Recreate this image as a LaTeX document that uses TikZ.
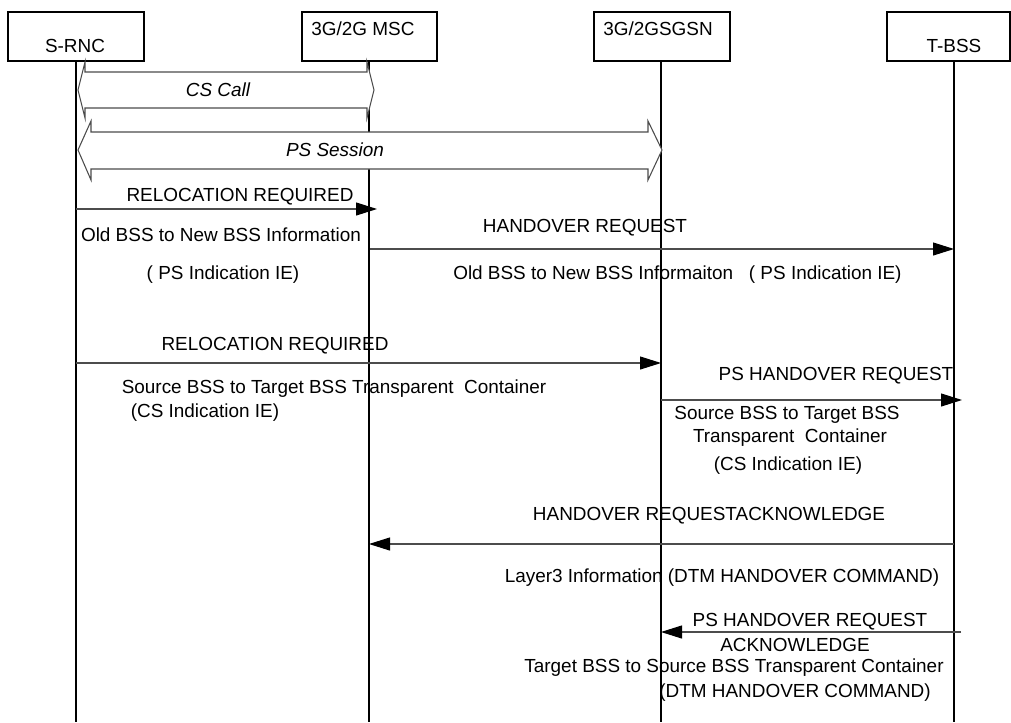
\documentclass[tikz,border=0pt]{standalone}
\usepackage{fontspec}
\setmainfont{Liberation Sans}
\usetikzlibrary{arrows.meta}
\begin{document}
\begin{tikzpicture}[x=0.75pt,y=-0.75pt,
  box/.style={draw=black,line width=1.2pt,minimum height=36.75pt,inner sep=0pt},
  lifeline/.style={draw=black,line width=1.6pt},
  msg/.style={draw=black!70,line width=0.8pt,-{Triangle[length=15.75pt,width=9.75pt,color=black]}},
  txt/.style={font=\fontsize{14.2}{16}\selectfont,inner sep=0pt,anchor=base},
  itxt/.style={txt,font=\fontsize{14.2}{16}\selectfont\itshape},
  band/.style={draw=black!70,line width=0.8pt},
  ]
\useasboundingbox (0,0) rectangle (1011,722);
\fill[white] (0,0) rectangle (1011,722);

% header boxes
\node[box,minimum width=102pt] (srnc) at (76,36.5) {};
\node[box,minimum width=101.25pt] (msc) at (369.5,36.5) {};
\node[box,minimum width=102pt] (sgsn) at (662,36.5) {};
\node[box,minimum width=92.25pt] (tbss) at (948.5,36.5) {};
\node[txt] (srnct) at (75,52) {S-RNC};
\node[txt] (msct) at (363,35) {3G/2G MSC};
\node[txt] (sgsnt) at (658,35) {3G/2GSGSN};
\node[txt] (tbsst) at (954,52) {T-BSS};

% lifelines
\coordinate (t1) at (76,61);  \coordinate (b1) at (76,722);
\coordinate (t2) at (369,61); \coordinate (b2) at (369,722);
\coordinate (t3) at (661,61); \coordinate (b3) at (661,722);
\coordinate (t4) at (954,61); \coordinate (b4) at (954,722);
\draw[lifeline] (t1) -- (b1);
\draw[lifeline] (t2) -- (b2);
\draw[lifeline] (t3) -- (b3);
\draw[lifeline] (t4) -- (b4);

% CS Call band
\draw[band,fill=white] (85,72) -- (367,72) -- (367,62) -- (374,90) -- (367,118) -- (367,108)
  -- (85,108) -- (85,118) -- (78,90) -- (85,62) -- cycle;
\node[itxt] (cscall) at (218,96) {CS Call};
% PS Session band
\draw[band,fill=white] (91,132) -- (648,132) -- (648,121) -- (662,150) -- (648,180) -- (648,169)
  -- (91,169) -- (91,180) -- (78,150) -- (91,121) -- cycle;
\node[itxt] (pssess) at (335,156) {PS Session};

% message 1
\coordinate (m1s) at (76,209); \coordinate (m1e) at (377,209);
\draw[msg] (m1s) -- (m1e);
\node[txt] (m1a) at (240,201) {RELOCATION REQUIRED};
\node[txt] (m1b) at (221,241) {Old BSS to New BSS Information};
\node[txt] (m1c) at (223,279) {( PS Indication IE)};

% message 2
\coordinate (m2s) at (370,249); \coordinate (m2e) at (954,249);
\draw[msg] (m2s) -- (m2e);
\node[txt] (m2a) at (585,232) {HANDOVER REQUEST};
\node[txt,anchor=base west] (m2b) at (453,279) {Old BSS to New BSS Informaiton\ \ \ ( PS Indication IE)};

% message 3
\coordinate (m3s) at (76,363); \coordinate (m3e) at (661,363);
\draw[msg] (m3s) -- (m3e);
\node[txt] (m3a) at (275,350) {RELOCATION REQUIRED};
\node[txt] (m3b) at (334,393) {Source BSS to Target BSS Transparent\ \ Container};
\node[txt] (m3c) at (205,417) {(CS Indication IE)};

% message 4
\coordinate (m4s) at (661,400); \coordinate (m4e) at (962,400);
\draw[msg] (m4s) -- (m4e);
\node[txt] (m4a) at (836,380) {PS HANDOVER REQUEST};
\node[txt] (m4b) at (787,419) {Source BSS to Target BSS};
\node[txt] (m4c) at (790,442) {Transparent\ \ Container};
\node[txt] (m4d) at (788,470) {(CS Indication IE)};

% message 5
\coordinate (m5s) at (954,544); \coordinate (m5e) at (369,544);
\draw[msg] (m5s) -- (m5e);
\node[txt] (m5a) at (709,520) {HANDOVER REQUESTACKNOWLEDGE};
\node[txt] (m5b) at (722,582) {Layer3 Information (DTM HANDOVER COMMAND)};

% message 6
\coordinate (m6s) at (961,632); \coordinate (m6e) at (661,632);
\draw[msg] (m6s) -- (m6e);
\node[txt] (m6a) at (810,626) {PS HANDOVER REQUEST};
\node[txt] (m6b) at (795,651) {ACKNOWLEDGE};
\node[txt] (m6c) at (734,672) {Target BSS to Source BSS Transparent Container};
\node[txt] (m6d) at (795,697) {(DTM HANDOVER COMMAND)};
\end{tikzpicture}
\end{document}
